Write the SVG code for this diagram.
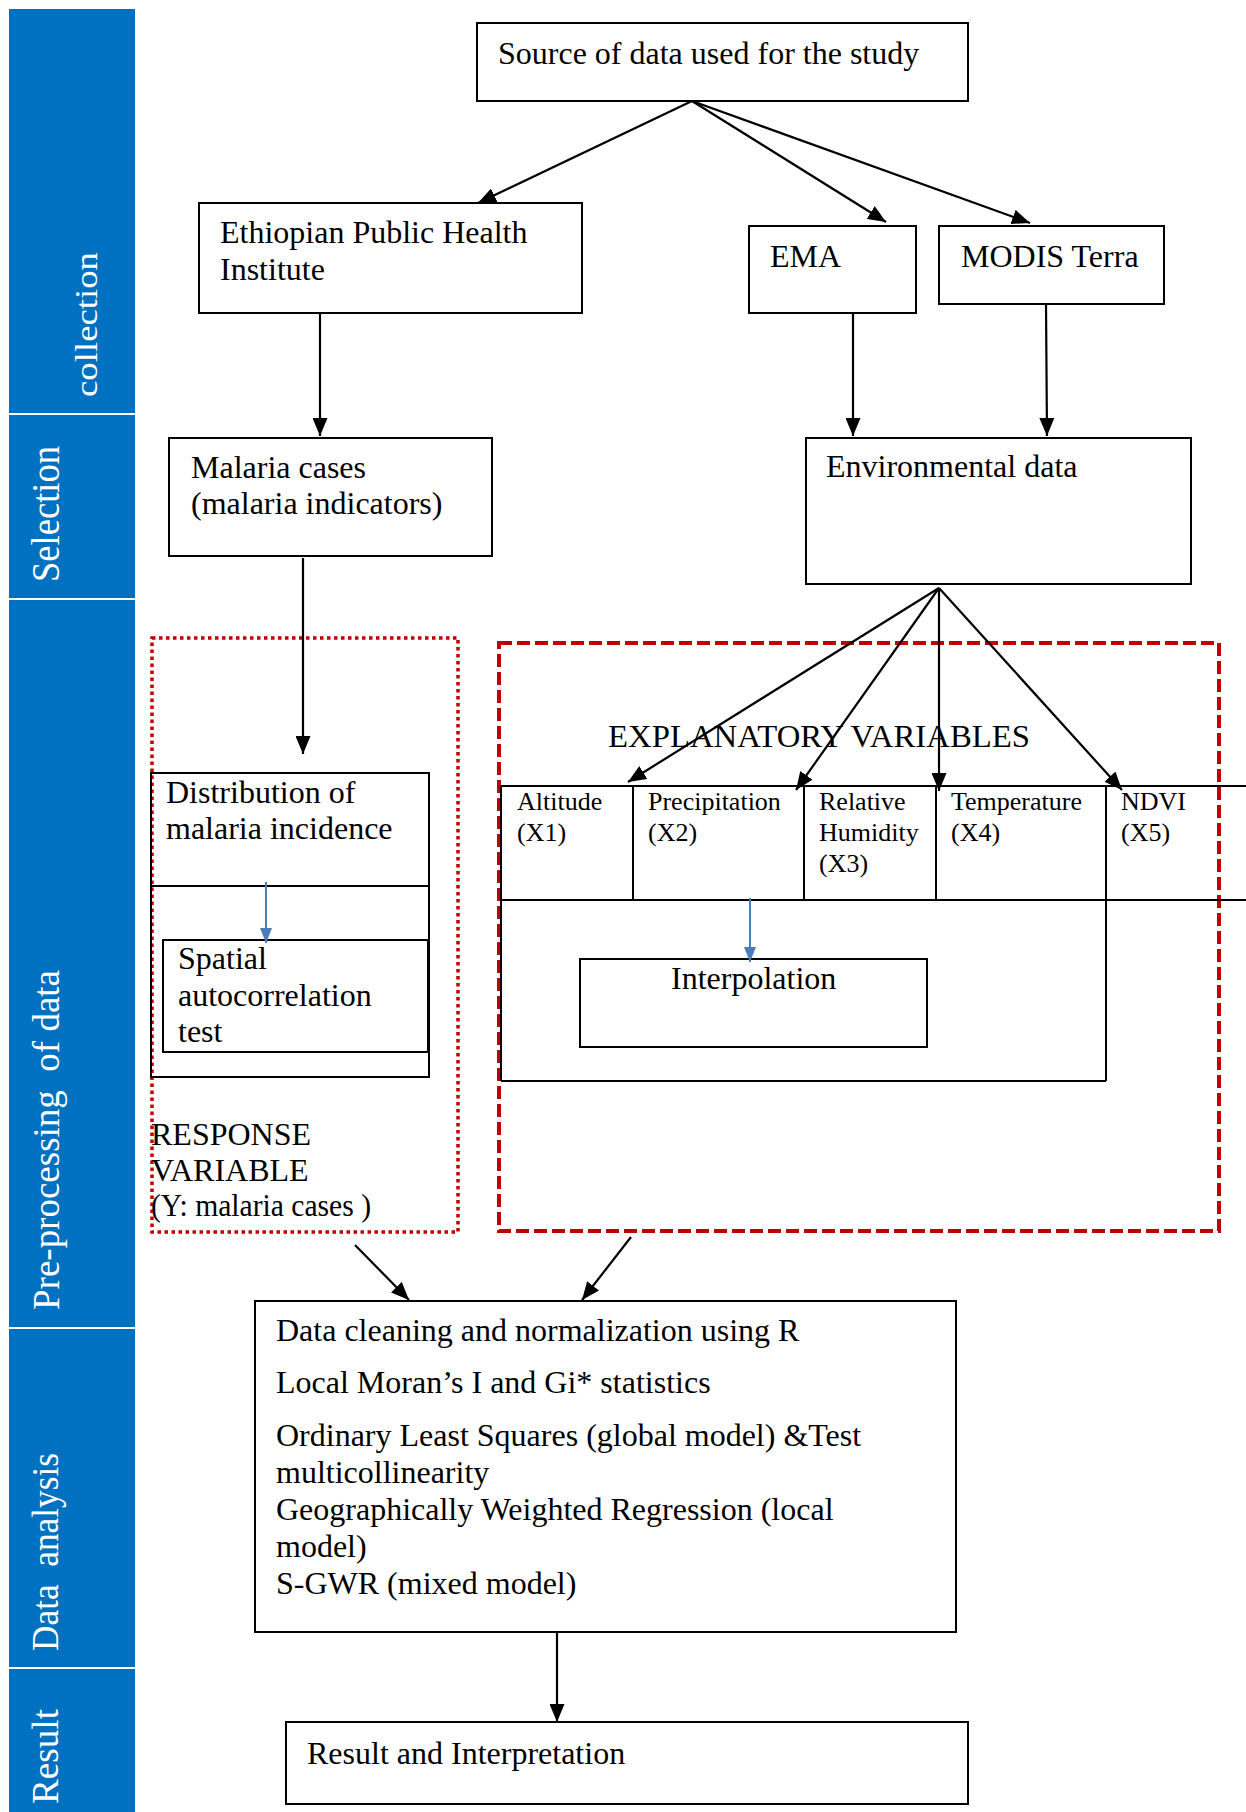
<svg xmlns="http://www.w3.org/2000/svg" width="1246" height="1812" viewBox="0 0 1246 1812">
<style>
  .bar { fill: #0070C0; }
  .lab { font-family: "Liberation Serif", "Times New Roman", serif; fill: #ffffff; }
  .box { fill: #ffffff; stroke: #000000; stroke-width: 2; }
  .nofill { fill: none; stroke: #000000; stroke-width: 2; }
  .t { font-family: "Liberation Serif", "Times New Roman", serif; font-size: 32px; fill: #000000; }
  .ts { font-family: "Liberation Serif", "Times New Roman", serif; font-size: 26px; fill: #000000; }
  .arr { stroke: #000000; stroke-width: 2.2; fill: none; marker-end: url(#ah); }
  .barr { stroke: #4A7EBB; stroke-width: 2; fill: none; marker-end: url(#bh); }
  .dash { fill: none; stroke: #C00000; stroke-width: 4; stroke-dasharray: 13 5; }
  .dot { fill: none; stroke: #C00000; stroke-width: 3.5; stroke-dasharray: 3.5 3.5; }
</style>
<defs>
  <marker id="ah" markerUnits="userSpaceOnUse" markerWidth="18" markerHeight="15" refX="18" refY="7.5" orient="auto">
    <path d="M0,0 L18,7.5 L0,15 z" fill="#000000"/>
  </marker>
  <marker id="bh" markerUnits="userSpaceOnUse" markerWidth="15" markerHeight="12" refX="15" refY="6" orient="auto">
    <path d="M0,0 L15,6 L0,12 z" fill="#4A7EBB"/>
  </marker>
</defs>
<rect width="1246" height="1812" fill="#ffffff"/>

<g id="phase-bar">
  <rect class="bar" x="9" y="9" width="126" height="404"/>
  <rect class="bar" x="9" y="415" width="126" height="183"/>
  <rect class="bar" x="9" y="600" width="126" height="727"/>
  <rect class="bar" x="9" y="1329" width="126" height="338"/>
  <rect class="bar" x="9" y="1669" width="126" height="143"/>
  <text class="lab" font-size="31" transform="translate(97,397) rotate(-90)" textLength="145" lengthAdjust="spacingAndGlyphs">collection</text>
  <text class="lab" font-size="41" transform="translate(59,582) rotate(-90)" textLength="136" lengthAdjust="spacingAndGlyphs">Selection</text>
  <text class="lab" font-size="38" xml:space="preserve" transform="translate(59,1310) rotate(-90)" textLength="340" lengthAdjust="spacingAndGlyphs">Pre-processing  of data</text>
  <text class="lab" font-size="38" xml:space="preserve" transform="translate(58,1651) rotate(-90)" textLength="198" lengthAdjust="spacingAndGlyphs">Data  analysis</text>
  <text class="lab" font-size="38" transform="translate(58,1804) rotate(-90)" textLength="95" lengthAdjust="spacingAndGlyphs">Result</text>
</g>

<g id="response-group">
  <rect class="dot" x="152" y="638" width="306" height="594"/>
  <text class="t" x="151" y="1145">RESPONSE</text>
  <text class="t" x="151" y="1181">VARIABLE</text>
  <text class="t" font-size="28" x="151" y="1216" textLength="220" lengthAdjust="spacingAndGlyphs">(Y: malaria cases )</text>
</g>

<g id="explanatory-group">
  <rect class="dash" x="499" y="643" width="720" height="588"/>
  <text class="t" x="608" y="747" textLength="422" lengthAdjust="spacingAndGlyphs">EXPLANATORY VARIABLES</text>
</g>

<g id="source">
  <rect class="box" x="477" y="23" width="491" height="78"/>
  <text class="t" x="498" y="64">Source of data used for the study</text>
</g>

<g id="ephi">
  <rect class="box" x="199" y="203" width="383" height="110"/>
  <text class="t" x="220" y="243">Ethiopian Public Health</text>
  <text class="t" x="220" y="280">Institute</text>
</g>

<g id="ema">
  <rect class="box" x="749" y="226" width="167" height="87"/>
  <text class="t" x="770" y="267">EMA</text>
</g>

<g id="modis">
  <rect class="box" x="939" y="226" width="225" height="78"/>
  <text class="t" x="961" y="267">MODIS Terra</text>
</g>

<g id="malaria-cases">
  <rect class="box" x="169" y="438" width="323" height="118"/>
  <text class="t" x="191" y="478">Malaria cases</text>
  <text class="t" x="191" y="514">(malaria indicators)</text>
</g>

<g id="environmental">
  <rect class="box" x="806" y="438" width="385" height="146"/>
  <text class="t" x="826" y="477">Environmental data</text>
</g>

<g id="distribution">
  <rect class="nofill" x="151" y="773" width="278" height="304"/>
  <line class="nofill" x1="151" y1="886" x2="429" y2="886"/>
  <text class="t" x="166" y="803">Distribution of</text>
  <text class="t" x="166" y="839">malaria incidence</text>
</g>

<g id="spatial-test">
  <rect class="nofill" x="163" y="940" width="265" height="112"/>
  <text class="t" x="178" y="969">Spatial</text>
  <text class="t" x="178" y="1006">autocorrelation</text>
  <text class="t" x="178" y="1042">test</text>
</g>

<g id="variables-table">
  <line class="nofill" x1="501" y1="786" x2="1246" y2="786"/>
  <line class="nofill" x1="501" y1="900" x2="1246" y2="900"/>
  <line class="nofill" x1="501" y1="1081" x2="1106" y2="1081"/>
  <line class="nofill" x1="501" y1="786" x2="501" y2="1081"/>
  <line class="nofill" x1="633" y1="786" x2="633" y2="900"/>
  <line class="nofill" x1="804" y1="786" x2="804" y2="900"/>
  <line class="nofill" x1="936" y1="786" x2="936" y2="900"/>
  <line class="nofill" x1="1106" y1="786" x2="1106" y2="1081"/>
  <text class="ts" x="517" y="810">Altitude</text>
  <text class="ts" x="517" y="841">(X1)</text>
  <text class="ts" x="648" y="810">Precipitation</text>
  <text class="ts" x="648" y="841">(X2)</text>
  <text class="ts" x="819" y="810">Relative</text>
  <text class="ts" x="819" y="841">Humidity</text>
  <text class="ts" x="819" y="872">(X3)</text>
  <text class="ts" x="951" y="810">Temperature</text>
  <text class="ts" x="951" y="841">(X4)</text>
  <text class="ts" x="1121" y="810">NDVI</text>
  <text class="ts" x="1121" y="841">(X5)</text>
</g>

<g id="interpolation">
  <rect class="nofill" x="580" y="959" width="347" height="88"/>
  <text class="t" x="671" y="989">Interpolation</text>
</g>

<g id="analysis">
  <rect class="box" x="255" y="1301" width="701" height="331"/>
  <text class="t" x="276" y="1341">Data cleaning and normalization using R</text>
  <text class="t" x="276" y="1393">Local Moran’s I and Gi* statistics</text>
  <text class="t" x="276" y="1446">Ordinary Least Squares (global model) &amp;Test</text>
  <text class="t" x="276" y="1483">multicollinearity</text>
  <text class="t" x="276" y="1520">Geographically Weighted Regression (local</text>
  <text class="t" x="276" y="1557">model)</text>
  <text class="t" x="276" y="1594">S-GWR (mixed model)</text>
</g>

<g id="result">
  <rect class="box" x="286" y="1722" width="682" height="82"/>
  <text class="t" x="307" y="1764">Result and Interpretation</text>
</g>

<g id="connectors">
  <line class="arr" x1="692" y1="101" x2="478" y2="203"/>
  <line class="arr" x1="692" y1="101" x2="886" y2="222"/>
  <line class="arr" x1="692" y1="101" x2="1030" y2="223"/>
  <line class="arr" x1="320" y1="313" x2="320" y2="436"/>
  <line class="arr" x1="853" y1="313" x2="853" y2="436"/>
  <line class="arr" x1="1046" y1="304" x2="1047" y2="436"/>
  <line class="arr" x1="303" y1="558" x2="303" y2="754"/>
  <line class="arr" x1="939" y1="588" x2="628" y2="782"/>
  <line class="arr" x1="939" y1="588" x2="796" y2="790"/>
  <line class="arr" x1="939" y1="588" x2="939" y2="791"/>
  <line class="arr" x1="939" y1="588" x2="1122" y2="790"/>
  <line class="barr" x1="266" y1="882" x2="266" y2="943"/>
  <line class="barr" x1="750" y1="898" x2="750" y2="962"/>
  <line class="arr" x1="355" y1="1245" x2="409" y2="1300"/>
  <line class="arr" x1="631" y1="1237" x2="582" y2="1300"/>
  <line class="arr" x1="557" y1="1632" x2="557" y2="1722"/>
</g>
</svg>
